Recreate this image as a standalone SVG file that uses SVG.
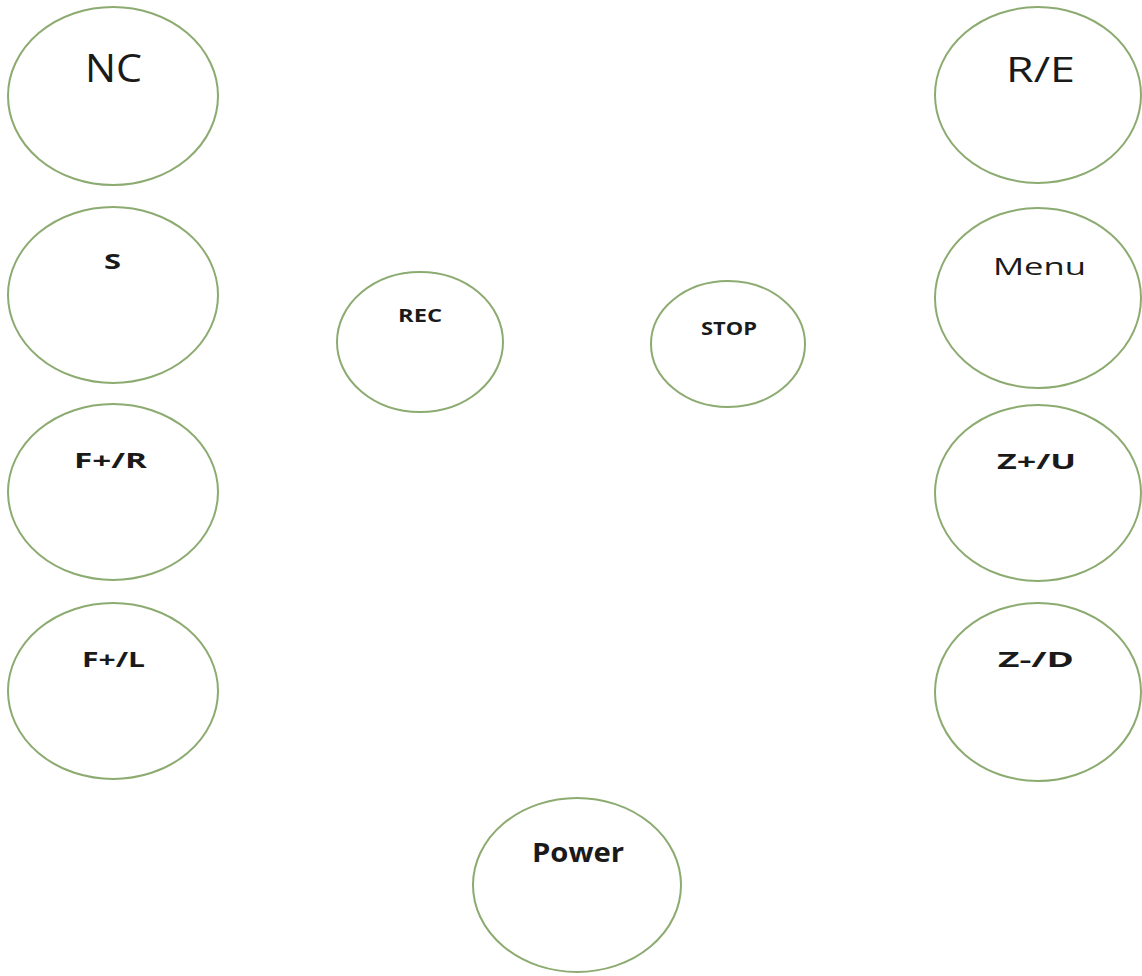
<svg xmlns="http://www.w3.org/2000/svg" width="1142" height="976" viewBox="0 0 1142 976">
<style>
.btn{fill:#ffffff;stroke:#8cab70;stroke-width:2}
.t{font-family:"Open Sans","Liberation Sans",Arial,sans-serif;fill:#1a1a1a}
.b{font-weight:bold}
</style>
<rect width="1142" height="976" fill="#ffffff"/>
<g id="connectors"></g>
<g id="nc"><ellipse class="btn" cx="113" cy="96" rx="105" ry="89"/><text class="t" x="85" y="82" font-size="38" textLength="57" lengthAdjust="spacingAndGlyphs">NC</text></g>
<g id="s"><ellipse class="btn" cx="113" cy="295" rx="105" ry="88"/><text class="t b" x="104" y="269" font-size="22" textLength="17" lengthAdjust="spacingAndGlyphs">S</text></g>
<g id="fr"><ellipse class="btn" cx="113" cy="492" rx="105" ry="88"/><text class="t b" x="74" y="468" font-size="21" textLength="73" lengthAdjust="spacingAndGlyphs">F+/R</text></g>
<g id="fl"><ellipse class="btn" cx="113" cy="691" rx="105" ry="88"/><text class="t b" x="82" y="667" font-size="21" textLength="63" lengthAdjust="spacingAndGlyphs">F+/L</text></g>
<g id="re"><ellipse class="btn" cx="1038" cy="95" rx="103" ry="88"/><text class="t" x="1006" y="82" font-size="35" textLength="69" lengthAdjust="spacingAndGlyphs">R/E</text></g>
<g id="menu"><ellipse class="btn" cx="1038" cy="298" rx="103" ry="90"/><text class="t" x="993" y="275" font-size="24" textLength="93" lengthAdjust="spacingAndGlyphs">Menu</text></g>
<g id="zu"><ellipse class="btn" cx="1038" cy="493" rx="103" ry="88"/><text class="t b" x="997" y="469" font-size="22" textLength="79" lengthAdjust="spacingAndGlyphs">Z+/U</text></g>
<g id="zd"><ellipse class="btn" cx="1038" cy="692" rx="103" ry="89"/><text class="t b" x="998" y="667" font-size="22" textLength="76" lengthAdjust="spacingAndGlyphs">Z-/D</text></g>
<g id="rec"><ellipse class="btn" cx="420" cy="342" rx="83" ry="70"/><text class="t b" x="398" y="322" font-size="17" textLength="44" lengthAdjust="spacingAndGlyphs">REC</text></g>
<g id="stop"><ellipse class="btn" cx="728" cy="344" rx="77" ry="63"/><text class="t b" x="701" y="335" font-size="18" textLength="56" lengthAdjust="spacingAndGlyphs">STOP</text></g>
<g id="power"><ellipse class="btn" cx="577" cy="885" rx="104" ry="87"/><text class="t b" x="532" y="862" font-size="26" textLength="92" lengthAdjust="spacingAndGlyphs">Power</text></g>
</svg>
